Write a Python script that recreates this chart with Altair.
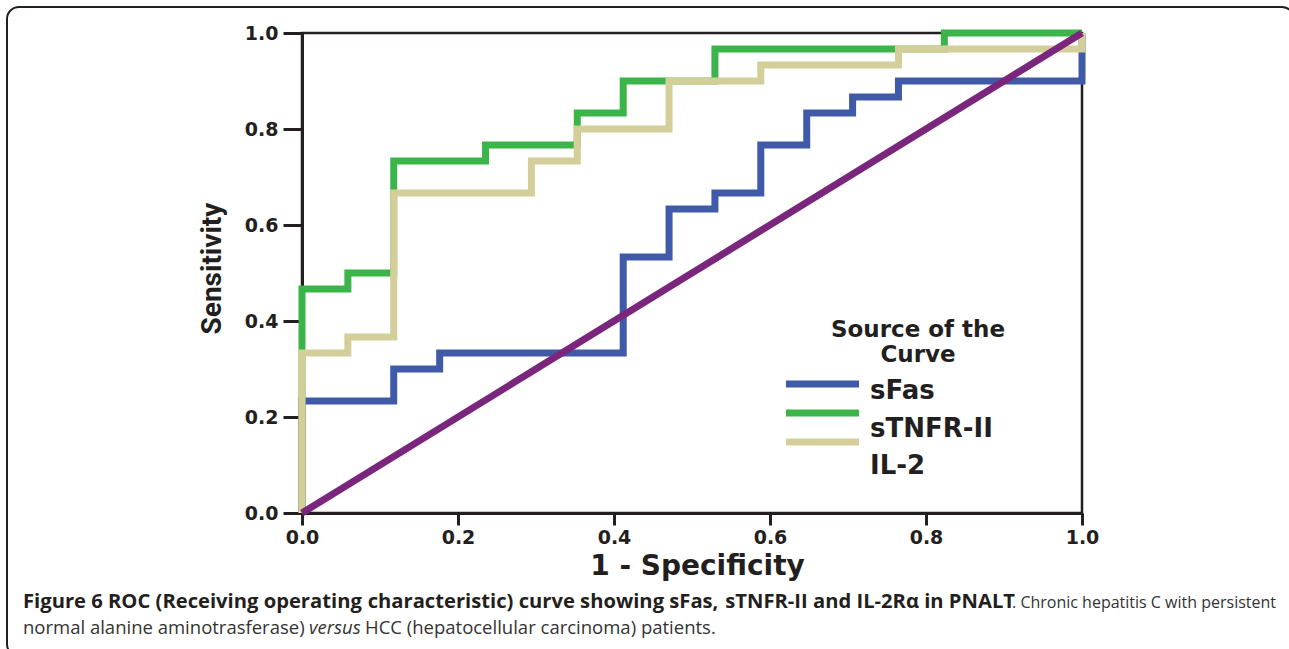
import altair as alt
import pandas as pd

# ROC curve points: x = 1 - specificity, y = sensitivity (step-after)
sfas_x = [0.0, 0.0, 0.1176, 0.1765, 0.4118, 0.4706, 0.5294, 0.5882, 0.6471, 0.7059, 0.7647, 1.0]
sfas_y = [0.0, 0.2333, 0.3, 0.3333, 0.5333, 0.6333, 0.6667, 0.7667, 0.8333, 0.8667, 0.9, 1.0]

stnfr_x = [0.0, 0.0, 0.0588, 0.1176, 0.2353, 0.3529, 0.4118, 0.5294, 0.8235, 1.0]
stnfr_y = [0.0, 0.4667, 0.5, 0.7333, 0.7667, 0.8333, 0.9, 0.9667, 1.0, 1.0]

il2_x = [0.0, 0.0, 0.0588, 0.1176, 0.2941, 0.3529, 0.4706, 0.5882, 0.7647, 1.0]
il2_y = [0.0, 0.3333, 0.3667, 0.6667, 0.7333, 0.8, 0.9, 0.9333, 0.9667, 1.0]

ref_x = [0.0, 1.0]
ref_y = [0.0, 1.0]

series_names = ["sFas", "sTNFR-II", "IL-2"]
series_colors = ["#3f5aa9", "#3bb54a", "#d4cf98"]
ref_color = "#7b267d"

tick_values = [0.0, 0.2, 0.4, 0.6, 0.8, 1.0]
legend_title = ["Source of the", "Curve"]
x_title = "1 - Specificity"
y_title = "Sensitivity"

cap1_bold = ["Figure 6 ROC (Receiving operating",
             "characteristic) curve showing sFas,",
             "sTNFR-II and IL-2R\u03b1 in PNALT"]
cap1_norm = ". Chronic hepatitis C with persistent"
cap2_a = "normal alanine aminotrasferase)"
cap2_b = "versus"
cap2_c = "HCC (hepatocellular carcinoma) patients."

INK = "#231f20"
W, H = 780, 480
LEFT, TOP = 302, 33

xs = alt.Scale(domain=[0, 1], nice=False, zero=False)
ys = alt.Scale(domain=[0, 1], nice=False, zero=False)

x_axis = alt.Axis(values=tick_values, format=".1f", grid=False, labelFlush=False,
                  tickSize=12, tickWidth=3, tickColor=INK, domainWidth=3, domainColor=INK,
                  labelFont="DejaVu Sans", labelFontWeight="bold", labelFontSize=19,
                  labelColor=INK, labelPadding=3,
                  title=x_title, titleFont="DejaVu Sans", titleFontWeight="bold",
                  titleFontSize=28, titleColor=INK, titleX=395, titleY=53,
                  titleAlign="center", titleBaseline="middle")
y_axis = alt.Axis(values=tick_values, format=".1f", grid=False,
                  tickSize=19, tickWidth=3, tickColor=INK, domainWidth=3, domainColor=INK,
                  labelFont="DejaVu Sans", labelFontWeight="bold", labelFontSize=19,
                  labelColor=INK, labelPadding=5,
                  title=y_title, titleFont="Roboto", titleFontWeight="bold",
                  titleFontSize=28, titleColor=INK, titleX=-90, titleY=235,
                  titleAngle=270, titleAlign="center", titleBaseline="middle")


def curve(xv, yv, color, width=7):
    df = pd.DataFrame({"fpr": xv, "tpr": yv, "idx": list(range(len(xv)))})
    return alt.Chart(df).mark_line(
        interpolate="step-after", strokeWidth=width, color=color,
        strokeJoin="miter", strokeCap="butt"
    ).encode(
        x=alt.X("fpr:Q", scale=xs, axis=x_axis),
        y=alt.Y("tpr:Q", scale=ys, axis=y_axis),
        order=alt.Order("idx:Q"),
    )


layers = []
layers.append(curve(sfas_x, sfas_y, series_colors[0]))
layers.append(curve(stnfr_x, stnfr_y, series_colors[1]))
layers.append(curve(il2_x, il2_y, series_colors[2]))

ref_df = pd.DataFrame({"fpr": ref_x, "tpr": ref_y})
layers.append(alt.Chart(ref_df).mark_line(strokeWidth=7, color=ref_color, strokeCap="butt").encode(
    x=alt.X("fpr:Q", scale=xs, axis=x_axis),
    y=alt.Y("tpr:Q", scale=ys, axis=y_axis),
))

# Legend (manual): two-line title as one text mark (first line anchored at y)
layers.append(alt.Chart(pd.DataFrame({"k": [0]})).mark_text(
    text=legend_title, lineHeight=25,
    font="DejaVu Sans", fontWeight="bold", fontSize=23, color=INK,
    align="center", baseline="middle"
).encode(x=alt.value(616), y=alt.value(297)))

sw_y = [351, 380, 409]
lab_y = [358, 396, 433]
for name, col, sy, ly in zip(series_names, series_colors, sw_y, lab_y):
    d = pd.DataFrame({"name": [name]})
    layers.append(alt.Chart(d).mark_rule(strokeWidth=7, color=col).encode(
        x=alt.value(484), x2=alt.value(557), y=alt.value(sy)))
    layers.append(alt.Chart(d).mark_text(
        font="DejaVu Sans", fontWeight="bold", fontSize=26, color=INK,
        align="left", baseline="middle"
    ).encode(text="name:N", x=alt.value(568), y=alt.value(ly)))

# Figure border (rounded box)
layers.append(alt.Chart(pd.DataFrame({"b": [0]})).mark_rect(
    fill=None, fillOpacity=0, stroke=INK, strokeWidth=2, cornerRadius=12
).encode(x=alt.value(-295), x2=alt.value(992), y=alt.value(-26), y2=alt.value(623)))


# Caption
def cap(text, x, y, weight="normal", style="normal", align="left", color="#333333", size=18.5):
    return alt.Chart(pd.DataFrame({"t": [text]})).mark_text(
        font="Open Sans", fontSize=size, fontWeight=weight, fontStyle=style,
        color=color, align=align, baseline="alphabetic"
    ).encode(text="t:N", x=alt.value(x), y=alt.value(y))


BS = 20.2
layers.append(cap(cap1_bold[0], 23 - LEFT, 575, weight="bold", color=INK, size=BS))
layers.append(cap(cap1_bold[1], 543 - LEFT, 575, weight="bold", color=INK, size=BS, align="center"))
layers.append(cap(cap1_bold[2], 1015 - LEFT, 575, weight="bold", color=INK, size=BS, align="right"))
layers.append(cap(cap1_norm, 1276 - LEFT, 575, align="right", size=16))
layers.append(cap(cap2_a, 23 - LEFT, 601))
layers.append(cap(cap2_b, 309 - LEFT, 601, style="italic"))
layers.append(cap(cap2_c, 365 - LEFT, 601))

chart = alt.layer(*layers).properties(
    width=W, height=H,
    autosize=alt.AutoSizeParams(type="none"),
    padding={"left": LEFT, "top": TOP, "right": 1289 - LEFT - W, "bottom": 649 - TOP - H},
    background="white",
).configure_view(stroke=INK, strokeWidth=2.5)

chart.save("out.html", embed_options={"renderer": "svg", "actions": False})
